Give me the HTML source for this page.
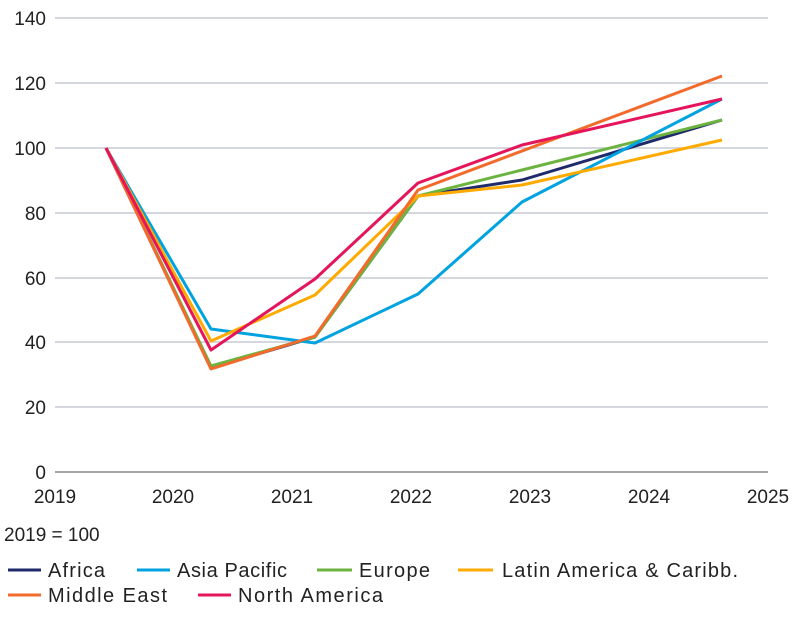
<!DOCTYPE html>
<html><head><style>body{margin:0;background:#fff}svg text{font-family:"Liberation Sans",sans-serif;fill:#222}</style></head>
<body>
<svg width="800" height="613" xmlns="http://www.w3.org/2000/svg">
<g stroke="#c5ccd4" stroke-width="1.5">
<line x1="55" x2="768" y1="18" y2="18"/><line x1="55" x2="768" y1="83" y2="83"/><line x1="55" x2="768" y1="148" y2="148"/><line x1="55" x2="768" y1="213" y2="213"/><line x1="55" x2="768" y1="278" y2="278"/><line x1="55" x2="768" y1="342" y2="342"/><line x1="55" x2="768" y1="407" y2="407"/>
</g>
<line x1="55" x2="768" y1="472" y2="472" stroke="#888" stroke-width="1.5"/>
<g font-size="19" text-anchor="end">
<text x="46" y="25">140</text><text x="46" y="90">120</text><text x="46" y="155">100</text><text x="46" y="220">80</text><text x="46" y="285">60</text><text x="46" y="349">40</text><text x="46" y="414">20</text><text x="46" y="479">0</text>
</g>
<g font-size="19" text-anchor="middle">
<text x="55" y="503">2019</text><text x="173" y="503">2020</text><text x="292" y="503">2021</text><text x="411" y="503">2022</text><text x="530" y="503">2023</text><text x="649" y="503">2024</text><text x="768" y="503">2025</text>
</g>
<text x="4" y="541" font-size="19">2019 = 100</text>
<g fill="none" stroke-width="3" stroke-linejoin="round">
<polyline stroke="#1f2a6b" points="106,148 211,368 315,337 418,196 522,180 722,120"/>
<polyline stroke="#6cb33f" points="106,148 211,366 315,337 418,196 522,170 722,120"/>
<polyline stroke="#00a3e0" points="106,148 211,329 315,343 418,294 522,202 722,99"/>
<polyline stroke="#ffaa00" points="106,148 211,341 315,295 418,196 522,185 722,140"/>
<polyline stroke="#f26b2d" points="106,148 211,369 315,336 418,190 722,76"/>
<polyline stroke="#e4155b" points="106,148 211,350 315,279 418,183 522,145 722,99"/>
</g>
<g stroke-width="3">
<line x1="8" x2="41" y1="570" y2="570" stroke="#1f2a6b"/>
<line x1="137" x2="170" y1="570" y2="570" stroke="#00a3e0"/>
<line x1="317" x2="352" y1="570" y2="570" stroke="#6cb33f"/>
<line x1="458" x2="493" y1="570" y2="570" stroke="#ffaa00"/>
<line x1="8" x2="41" y1="595" y2="595" stroke="#f26b2d"/>
<line x1="198" x2="231" y1="595" y2="595" stroke="#e4155b"/>
</g>
<g font-size="20">
<text x="48" y="577" textLength="57">Africa</text><text x="177" y="577" textLength="110">Asia Pacific</text><text x="359" y="577" textLength="71">Europe</text><text x="502" y="577" textLength="236">Latin America &amp; Caribb.</text>
<text x="48" y="602" textLength="119">Middle East</text><text x="238" y="602" textLength="145">North America</text>
</g>
</svg>
</body></html>
